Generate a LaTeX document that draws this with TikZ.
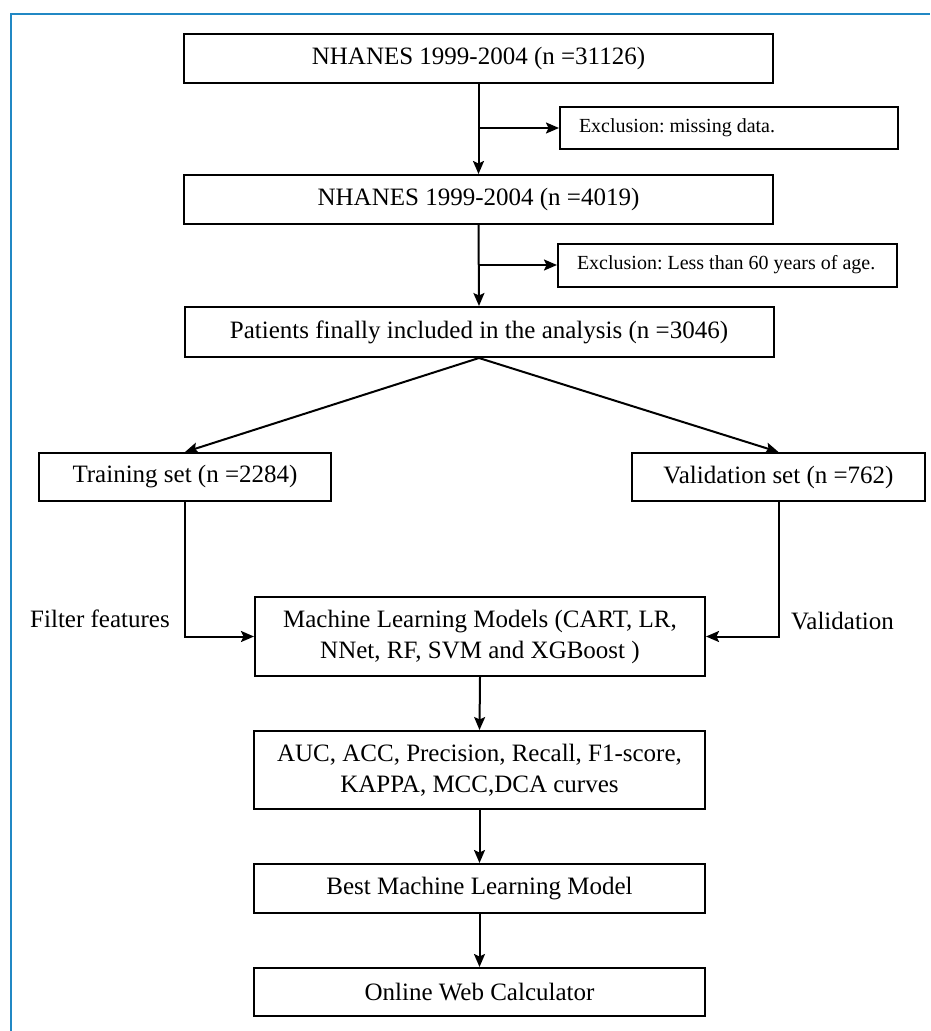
\documentclass[tikz,border=0pt]{standalone}
\usepackage{fontspec}
\setmainfont{Liberation Serif}
\frenchspacing
\usetikzlibrary{arrows.meta,calc}
\definecolor{frameblue}{RGB}{33,136,196}
\begin{document}
\begin{tikzpicture}[x=1pt,y=-1pt,
  box/.style={draw,line width=2pt,inner sep=0pt,align=center,font=\fontsize{25}{31}\selectfont},
  exbox/.style={draw,line width=2pt,inner xsep=19pt,inner ysep=0pt,font=\fontsize{20}{24}\selectfont},
  arr/.style={line width=2pt,-{Stealth[length=13pt,width=11pt,inset=2.5pt]}},
  lbl/.style={font=\fontsize{25}{30}\selectfont,inner sep=0pt},
  frameline/.style={draw=frameblue,line width=2.6pt}]
\useasboundingbox (0,0) rectangle (930,1031);
% frame
\draw[frameline] (11,1031) -- (11,14) -- (930,14);
% nodes
\node[box,minimum width=589pt,minimum height=49pt] (n1) at (478.5,58.5) {NHANES 1999-2004 (n =31126)};
\node[exbox,minimum height=42pt] (ex1) at (729,128) {\makebox[300pt][l]{Exclusion: missing data.}};
\node[box,minimum width=589pt,minimum height=49pt] (n2) at (478.5,199.5) {NHANES 1999-2004 (n =4019)};
\node[exbox,minimum height=43pt] (ex2) at (727.5,265) {\makebox[301pt][l]{Exclusion: Less than 60 years of age.}};
\node[box,minimum width=589pt,minimum height=50pt] (n3) at (479,332) {Patients finally included in the analysis (n =3046)};
\node[box,minimum width=292pt,minimum height=48pt] (train) at (185,477) {Training set (n =2284)};
\node[box,minimum width=293pt,minimum height=48pt] (valid) at (778.5,477) {Validation set (n =762)};
\node[box,minimum width=450pt,minimum height=79pt] (ml) at (480,636.5) {Machine Learning Models (CART, LR,\\NNet, RF, SVM and XGBoost )};
\node[box,minimum width=451pt,minimum height=78pt] (auc) at (479.5,770) {AUC, ACC, Precision, Recall, F1-score,\\KAPPA, MCC,DCA curves};
\node[box,minimum width=451pt,minimum height=49pt] (best) at (479.5,888.5) {Best Machine Learning Model};
\node[box,minimum width=451pt,minimum height=48pt] (online) at (479.5,992) {Online Web Calculator};
\node[lbl] (lf) at (100,619) {Filter features};
\node[lbl] (lv) at (842.5,621) {Validation};
% connectors
\coordinate (b1) at (n1.south |- ex1.west);
\coordinate (b2) at (n2.south |- ex2.west);
\draw[arr] (n1.south) -- (n2.north);
\draw[arr] (b1) -- (ex1.west);
\draw[arr] (n2.south) -- (n3.north);
\draw[arr] (b2) -- (ex2.west);
\draw[arr] (n3.south) -- (train.north);
\draw[arr] (n3.south) -- (valid.north);
\draw[arr] (train.south) |- (ml.west);
\draw[arr] (valid.south) |- (ml.east);
\draw[arr] (ml.south) -- (auc.north);
\draw[arr] (auc.south) -- (best.north);
\draw[arr] (best.south) -- (online.north);
\end{tikzpicture}
\end{document}
